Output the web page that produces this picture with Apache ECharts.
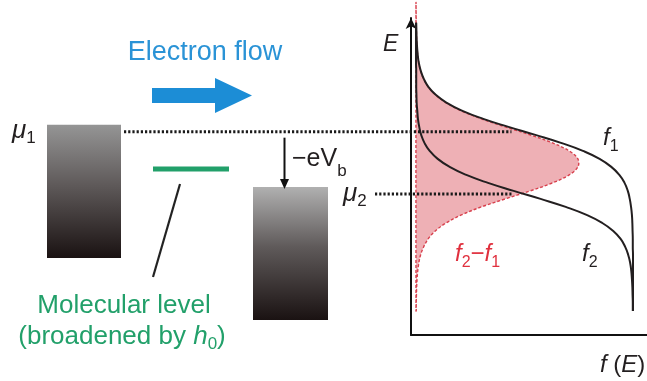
<!DOCTYPE html>
<html><head><meta charset="utf-8">
<script src="https://cdn.jsdelivr.net/npm/echarts@6/dist/echarts.min.js"></script>
<style>html,body{margin:0;padding:0;background:#fff}#c{width:647px;height:381px}</style>
</head><body><div id="c"></div>
<script>
// ---- data ----
const energy = [19.5,19,18.5,18,17.5,17,16.5,16,15.5,15,14.5,14,13.5,13,12.5,12,11.5,11,10.5,10,9.5,9,8.5,8,7.5,7,6.5,6,5.5,5,4.5,4,3.5,3,2.5,2,1.5];
const f1Values = [0.001,0.002,0.003,0.005,0.008,0.013,0.022,0.036,0.057,0.091,0.142,0.214,0.310,0.426,0.550,0.668,0.769,0.846,0.900,0.937,0.961,0.976,0.985,0.991,0.995,0.997,0.998,0.999,0.999,1,1,1,1,1,1,1,1];
const f2Values = [0,0,0,0,0,0,0.001,0.001,0.001,0.002,0.003,0.006,0.009,0.015,0.024,0.039,0.063,0.100,0.155,0.232,0.332,0.450,0.574,0.690,0.786,0.858,0.909,0.943,0.964,0.978,0.987,0.992,0.995,0.997,0.998,0.999,0.999];
const diffValues = [0.001,0.002,0.003,0.005,0.008,0.013,0.021,0.035,0.056,0.089,0.139,0.209,0.301,0.411,0.526,0.629,0.706,0.746,0.746,0.706,0.629,0.526,0.411,0.301,0.209,0.139,0.089,0.056,0.035,0.021,0.013,0.008,0.005,0.003,0.002,0.001,0.001];
const muLevels = [12.7, 8.8];      // mu1, mu2
const redTopEnergy = 20.7;
const dottedEndF = 0.44;

const FONT = '"Liberation Sans", Arial, Helvetica, sans-serif';
const chart = echarts.init(document.getElementById('c'), null, {renderer: 'canvas'});

function renderRed(params, api) {
  const pts = [api.coord([0, redTopEnergy])];
  for (let i = 0; i < energy.length; i++) pts.push(api.coord([diffValues[i], energy[i]]));
  pts.push(api.coord([0, energy[energy.length - 1]]));
  return {
    type: 'polygon',
    shape: {points: pts, smooth: 0.35},
    style: {fill: '#eeb0b5', stroke: '#d8404d', lineWidth: 1.4, lineDash: [3, 2]}
  };
}

const option = {
  animation: false,
  backgroundColor: '#fff',
  grid: {left: 411, right: 0, top: 18, bottom: 46},
  xAxis: {
    type: 'value', min: -0.023, max: 1.0645,
    axisLine: {show: true, lineStyle: {color: '#111', width: 2}},
    axisTick: {show: false}, axisLabel: {show: false}, splitLine: {show: false}
  },
  yAxis: {
    type: 'value', min: 0, max: 19.8,
    axisLine: {show: true, onZero: false, symbol: ['none', 'arrow'], symbolSize: [8, 11], lineStyle: {color: '#111', width: 2}},
    axisTick: {show: false}, axisLabel: {show: false}, splitLine: {show: false}
  },
  series: [
    {type: 'custom', renderItem: renderRed, data: [0], clip: false, z: 1, silent: true},
    {type: 'line', data: energy.map((e, i) => [f1Values[i], e]), smooth: 0.5, showSymbol: false,
     lineStyle: {color: '#231f20', width: 2}, z: 3},
    {type: 'line', data: energy.map((e, i) => [f2Values[i], e]), smooth: 0.5, showSymbol: false,
     lineStyle: {color: '#231f20', width: 2}, z: 3}
  ]
};
chart.setOption(option);

const y1 = chart.convertToPixel({gridIndex: 0}, [0, muLevels[0]])[1];
const y2 = chart.convertToPixel({gridIndex: 0}, [0, muLevels[1]])[1];
const xDotEnd = chart.convertToPixel({gridIndex: 0}, [dottedEndF, 0])[0];

const mctx = document.createElement('canvas').getContext('2d');
function fontStr(s) { return (s.italic ? 'italic ' : '') + s.size + 'px ' + FONT; }
function row(segs, x, baseline, color, align) {
  const widths = segs.map(s => { mctx.font = fontStr(s); return mctx.measureText(s.t).width + (s.kern || 0); });
  const total = widths.reduce((a, b) => a + b, 0);
  let cx = align === 'center' ? x - total / 2 : x;
  const els = [];
  segs.forEach((s, i) => {
    els.push({
      type: 'text', x: cx, y: baseline + (s.dy || 0) - 0.35 * s.size, z: 60,
      style: {text: s.t, fill: s.color || color, font: fontStr(s),
              textAlign: 'left', textVerticalAlign: 'middle', align: 'left', verticalAlign: 'middle'}
    });
    cx += widths[i];
  });
  return els;
}

function grad(top) {
  return new echarts.graphic.LinearGradient(0, 0, 0, 1, [
    {offset: 0, color: top}, {offset: 0.45, color: '#5f5a5a'}, {offset: 1, color: '#1a1212'}
  ]);
}

const green = '#22a06a';
const blue = '#2a93d6';
const red = '#e0303e';
const ink = '#231f20';

const graphic = [
  {type: 'rect', shape: {x: 47, y: y1 - 7, width: 74, height: 258 - (y1 - 7)}, style: {fill: grad('#959595')}, z: 5},
  {type: 'rect', shape: {x: 253, y: y2 - 7, width: 75, height: 320 - (y2 - 7)}, style: {fill: grad('#b0b0b0')}, z: 5},
  {type: 'line', shape: {x1: 124, y1: y1, x2: xDotEnd, y2: y1}, style: {stroke: '#1a1a1a', lineWidth: 3, lineDash: [2.2, 2]}, z: 50},
  {type: 'line', shape: {x1: 375, y1: y2, x2: xDotEnd, y2: y2}, style: {stroke: '#1a1a1a', lineWidth: 3, lineDash: [2.2, 2]}, z: 50},
  {type: 'line', shape: {x1: 153, y1: 169, x2: 229, y2: 169}, style: {stroke: green, lineWidth: 5}, z: 5},
  {type: 'line', shape: {x1: 180, y1: 184, x2: 153, y2: 277}, style: {stroke: '#222', lineWidth: 2.2}, z: 5},
  {type: 'polygon', shape: {points: [[152, 88], [215, 88], [215, 78], [252, 95.5], [215, 113], [215, 103], [152, 103]]}, style: {fill: '#1c8dd6'}, z: 5},
  {type: 'line', shape: {x1: 284.5, y1: y1 + 6, x2: 284.5, y2: y2 - 12}, style: {stroke: '#111', lineWidth: 2}, z: 5},
  {type: 'polygon', shape: {points: [[280, y2 - 15], [289, y2 - 15], [284.5, y2 - 5]]}, style: {fill: '#111'}, z: 5}
];

graphic.push(...row([{t: 'Electron flow', size: 27}], 205, 61.5, blue, 'center'));
graphic.push(...row([{t: 'Molecular level', size: 26}], 124, 315, green, 'center'));
graphic.push(...row([{t: '(broadened by ', size: 26}, {t: 'h', size: 26, italic: true}, {t: '0', size: 17, dy: 5}, {t: ')', size: 26}], 122, 345.5, green, 'center'));
graphic.push(...row([{t: 'μ', size: 26, italic: true}, {t: '1', size: 17, dy: 4.5}], 12, y1 + 8.5, ink, 'left'));
graphic.push(...row([{t: 'μ', size: 26, italic: true}, {t: '2', size: 17, dy: 4.5}], 343, y2 + 8.5, ink, 'left'));
graphic.push(...row([{t: '−eV', size: 25}, {t: 'b', size: 17, dy: 9}], 292, 168, ink, 'left'));
graphic.push(...row([{t: 'E', size: 23, italic: true}], 383, 53, ink, 'left'));
graphic.push(...row([{t: 'f', size: 24, italic: true}, {t: '1', size: 16, dy: 5, kern: 0}], 603, 147, ink, 'left'));
graphic.push(...row([{t: 'f', size: 24, italic: true}, {t: '2', size: 16, dy: 5}], 582, 263, ink, 'left'));
graphic.push(...row([{t: 'f', size: 24, italic: true}, {t: '2', size: 16, dy: 5}, {t: '−', size: 24}, {t: 'f', size: 24, italic: true}, {t: '1', size: 16, dy: 5}], 455, 263, red, 'left'));
graphic.push(...row([{t: 'f', size: 24, italic: true}, {t: ' (', size: 24}, {t: 'E', size: 24, italic: true}, {t: ')', size: 24}], 600, 374, ink, 'left'));

chart.setOption({graphic: graphic});
</script>
</body></html>
